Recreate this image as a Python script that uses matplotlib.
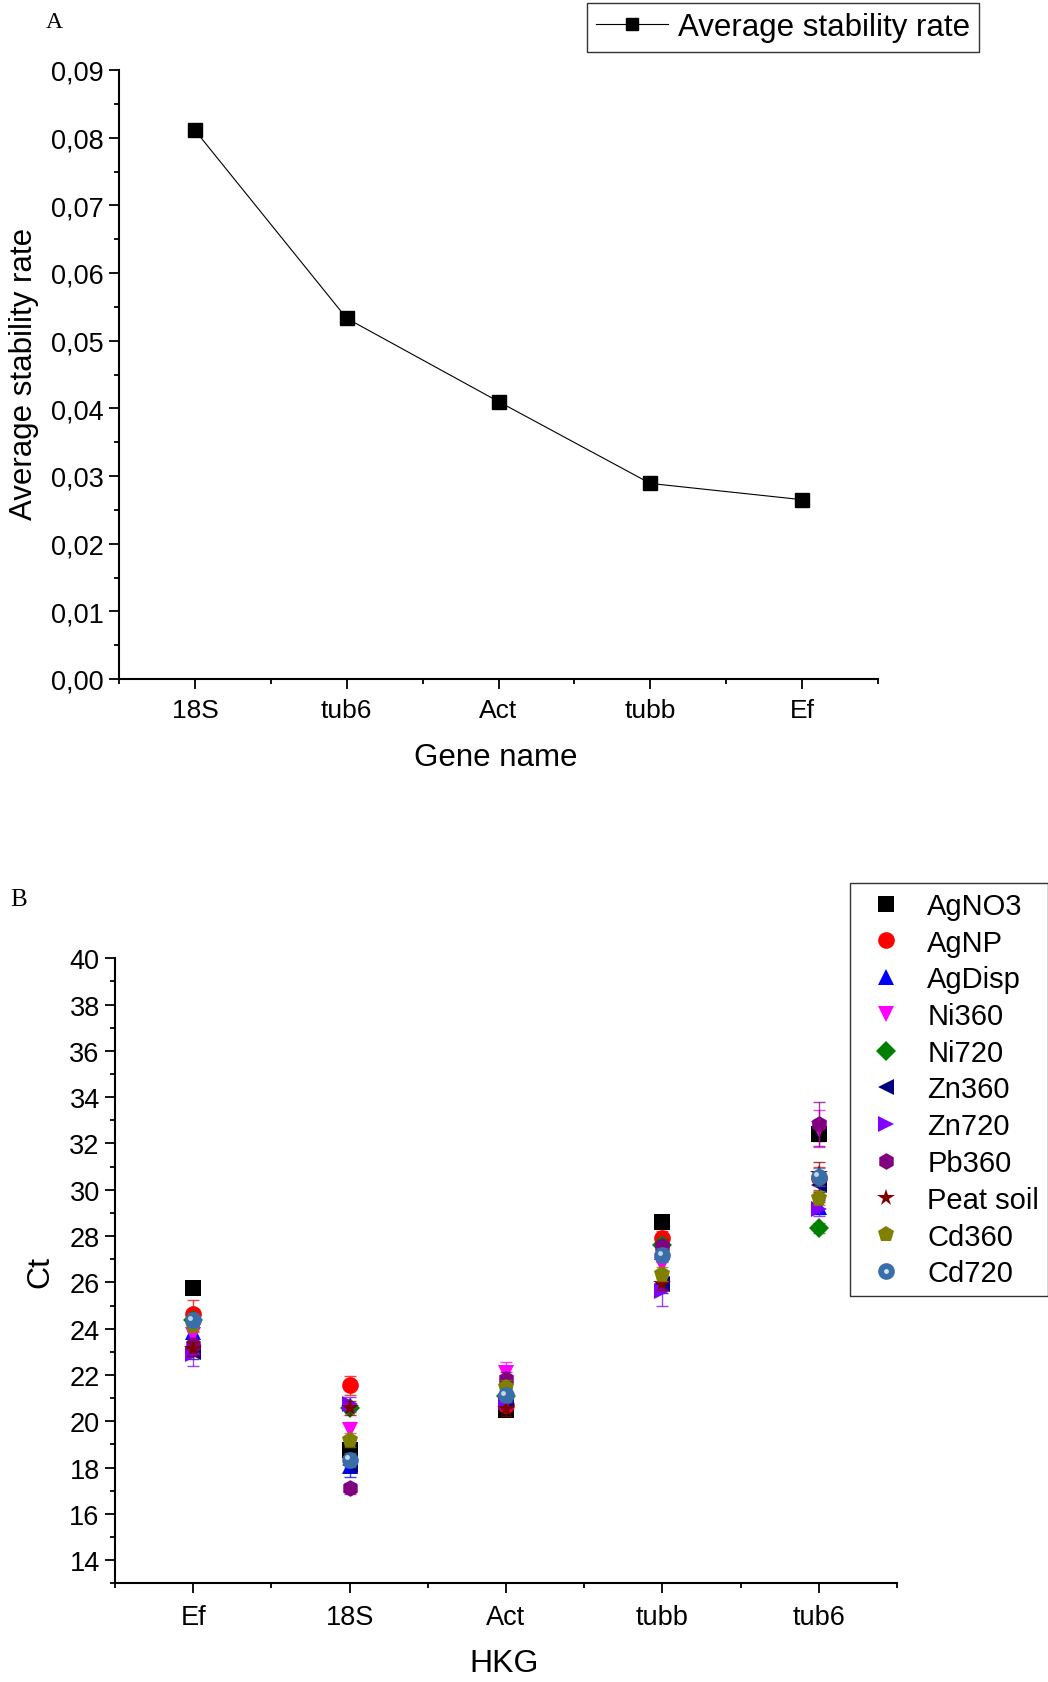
import matplotlib
matplotlib.use("Agg")
import matplotlib.pyplot as plt
from matplotlib.lines import Line2D
from matplotlib.ticker import MultipleLocator, FixedLocator, FuncFormatter
import matplotlib.transforms as mtransforms

plt.rcParams['font.family'] = ['Liberation Sans', 'DejaVu Sans']

# panel A data
genes_a = ["18S", "tub6", "Act", "tubb", "Ef"]
stability = [0.0811, 0.0533, 0.0410, 0.0289, 0.0265]

# panel B data (Ct per treatment, order = genes_b)
genes_b = ["Ef", "18S", "Act", "tubb", "tub6"]
treatments = ["AgNO3", "AgNP", "AgDisp", "Ni360", "Ni720", "Zn360",
              "Zn720", "Pb360", "Peat soil", "Cd360", "Cd720"]

ct_agno3 = [25.76, 18.75, 20.50, 28.59, 32.42]
ct_agnp = [24.65, 21.55, 20.70, 27.92, 30.50]
ct_agdisp = [23.86, 18.06, 21.20, 27.32, 29.25]
ct_ni360 = [23.71, 19.61, 22.10, 26.77, 32.63]
ct_ni720 = [24.36, 20.58, 21.10, 27.60, 28.35]
ct_zn360 = [23.00, 18.10, 20.90, 25.92, 30.19]
ct_zn720 = [22.92, 20.76, 20.85, 25.63, 29.18]
ct_pb360 = [23.28, 17.10, 21.84, 27.55, 32.85]
ct_peat = [23.14, 20.58, 20.54, 25.95, 30.70]
ct_cd360 = [24.14, 19.18, 21.48, 26.38, 29.64]
ct_cd720 = [24.36, 18.32, 21.12, 27.17, 30.55]

err_agno3 = [0.20, 0.25, 0.20, 0.20, 0.30]
err_agnp = [0.60, 0.40, 0.25, 0.30, 0.50]
err_agdisp = [0.30, 0.46, 0.30, 0.40, 0.30]
err_ni360 = [0.20, 0.35, 0.45, 0.30, 0.80]
err_ni720 = [0.25, 0.20, 0.30, 0.30, 0.20]
err_zn360 = [0.30, 0.30, 0.30, 0.40, 0.30]
err_zn720 = [0.53, 0.30, 0.30, 0.65, 0.30]
err_pb360 = [0.30, 0.25, 0.30, 0.30, 0.95]
err_peat = [0.30, 0.30, 0.30, 0.30, 0.50]
err_cd360 = [0.30, 0.30, 0.30, 0.30, 0.30]
err_cd720 = [0.30, 0.30, 0.30, 0.30, 0.40]

ct_all = [ct_agno3, ct_agnp, ct_agdisp, ct_ni360, ct_ni720, ct_zn360,
          ct_zn720, ct_pb360, ct_peat, ct_cd360, ct_cd720]
err_all = [err_agno3, err_agnp, err_agdisp, err_ni360, err_ni720, err_zn360,
           err_zn720, err_pb360, err_peat, err_cd360, err_cd720]

colors = ["black", "#ff0000", "#0000ff", "#ff00ff", "#008000", "#000080",
          "#8000ff", "#800080", "#800000", "#808000", "#3a6ea8"]
markers = ["s", "o", "^", "v", "D", "<", ">", "h", "*", "p", "o"]
msizes = [11, 12, 12, 12, 10.5, 12, 12, 12, 13, 12, 12]

W, H = 1048, 1683
fig = plt.figure(figsize=(W / 100, H / 100), dpi=100)


def style_axes(ax):
    for s in ["top", "right"]:
        ax.spines[s].set_visible(False)
    for s in ["left", "bottom"]:
        ax.spines[s].set_linewidth(1.5)
    ax.tick_params(which="major", direction="out", length=7, width=1.3)
    ax.tick_params(which="minor", direction="out", length=3.5, width=1.3)
    ax.set_xlim(0.5, 5.5)
    ax.set_xticks(range(1, 6))
    ax.xaxis.set_minor_locator(FixedLocator([0.5, 1.5, 2.5, 3.5, 4.5, 5.5]))


# ---------- panel A ----------
axA = fig.add_axes([119 / W, 1 - 680 / H, (878 - 119) / W, (680 - 71) / H])
style_axes(axA)
xa = list(range(1, len(genes_a) + 1))
axA.plot(xa, stability, color="black", lw=0.8, marker="s", ms=9.5)
axA.set_ylim(0, 0.09)
axA.yaxis.set_major_locator(MultipleLocator(0.01))
axA.yaxis.set_minor_locator(MultipleLocator(0.005))
axA.yaxis.set_major_formatter(FuncFormatter(lambda v, p: f"{v:.2f}".replace(".", ",")))
axA.set_xticklabels(genes_a)
axA.tick_params(axis="y", labelsize=19.5, pad=4)
axA.tick_params(axis="x", labelsize=19, pad=7)
fig.text(496 / W, 1 - 758 / H, "Gene name", ha="center", va="center", fontsize=22.5)
fig.text(24 / W, 1 - 374 / H, "Average stability rate", ha="center", va="center",
         rotation=90, fontsize=22.5)
fig.legend(handles=[Line2D([], [], color="black", lw=0.8, marker="s", ms=9)],
           labels=["Average stability rate"], loc="upper right",
           bbox_to_anchor=(979 / W, 1 - 4 / H), fontsize=22.5, frameon=True,
           fancybox=False, edgecolor="black", handlelength=2.3,
           handletextpad=0.3, borderpad=0.3, borderaxespad=0)
fig.text(46 / W, 1 - 22 / H, "A", family="Liberation Serif", fontsize=17,
         ha="left", va="center")

# ---------- panel B ----------
axB = fig.add_axes([115 / W, 1 - 1584.3 / H, (897 - 115) / W, (1584.3 - 959.3) / H])
style_axes(axB)
xb = list(range(1, len(genes_b) + 1))
handles = []
for name, ct, err, c, m, ms in zip(treatments, ct_all, err_all, colors, markers, msizes):
    axB.errorbar(xb, ct, yerr=err, fmt="none", ecolor=c, elinewidth=1,
                 capsize=4.5, capthick=1, alpha=0.75)
    axB.plot(xb, ct, ls="none", marker=m, color=c, ms=ms, mew=0)
    h = Line2D([], [], ls="none", marker=m, color=c, ms=ms, mew=0)
    if name == "Cd720":
        # glossy highlight on the sphere marker
        shift = mtransforms.offset_copy(axB.transData, fig=fig, x=-2, y=2, units="points")
        axB.plot(xb, ct, ls="none", marker="o", color="#d4e4f4", ms=3.5, mew=0,
                 transform=shift, alpha=0.9)
        h = (h, Line2D([], [], ls="none", marker="o", color="#d4e4f4", ms=3.5, mew=0))
    handles.append(h)

axB.set_ylim(13, 40)
axB.yaxis.set_minor_locator(MultipleLocator(1))
axB.set_yticks(range(14, 41, 2))
axB.set_xticklabels(genes_b)
axB.tick_params(axis="y", labelsize=19.5, pad=4)
axB.tick_params(axis="x", labelsize=19.5, pad=8)
fig.text(504 / W, 1 - 1664 / H, "HKG", ha="center", va="center", fontsize=23)
fig.text(40 / W, 1 - 1272 / H, "Ct", ha="center", va="center", rotation=90, fontsize=23)
leg = fig.legend(handles=handles, labels=treatments, loc="upper left",
                 bbox_to_anchor=(850 / W, 1 - 884 / H), fontsize=21, frameon=True,
                 fancybox=False, edgecolor="black", handlelength=1.9,
                 handletextpad=0.45, borderpad=0.3, borderaxespad=0,
                 labelspacing=0.3)
leg.get_frame().set_linewidth(1)
fig.text(10 / W, 1 - 900 / H, "B", family="Liberation Serif", fontsize=18,
         ha="left", va="center")

fig.savefig("out.png", dpi=100)
